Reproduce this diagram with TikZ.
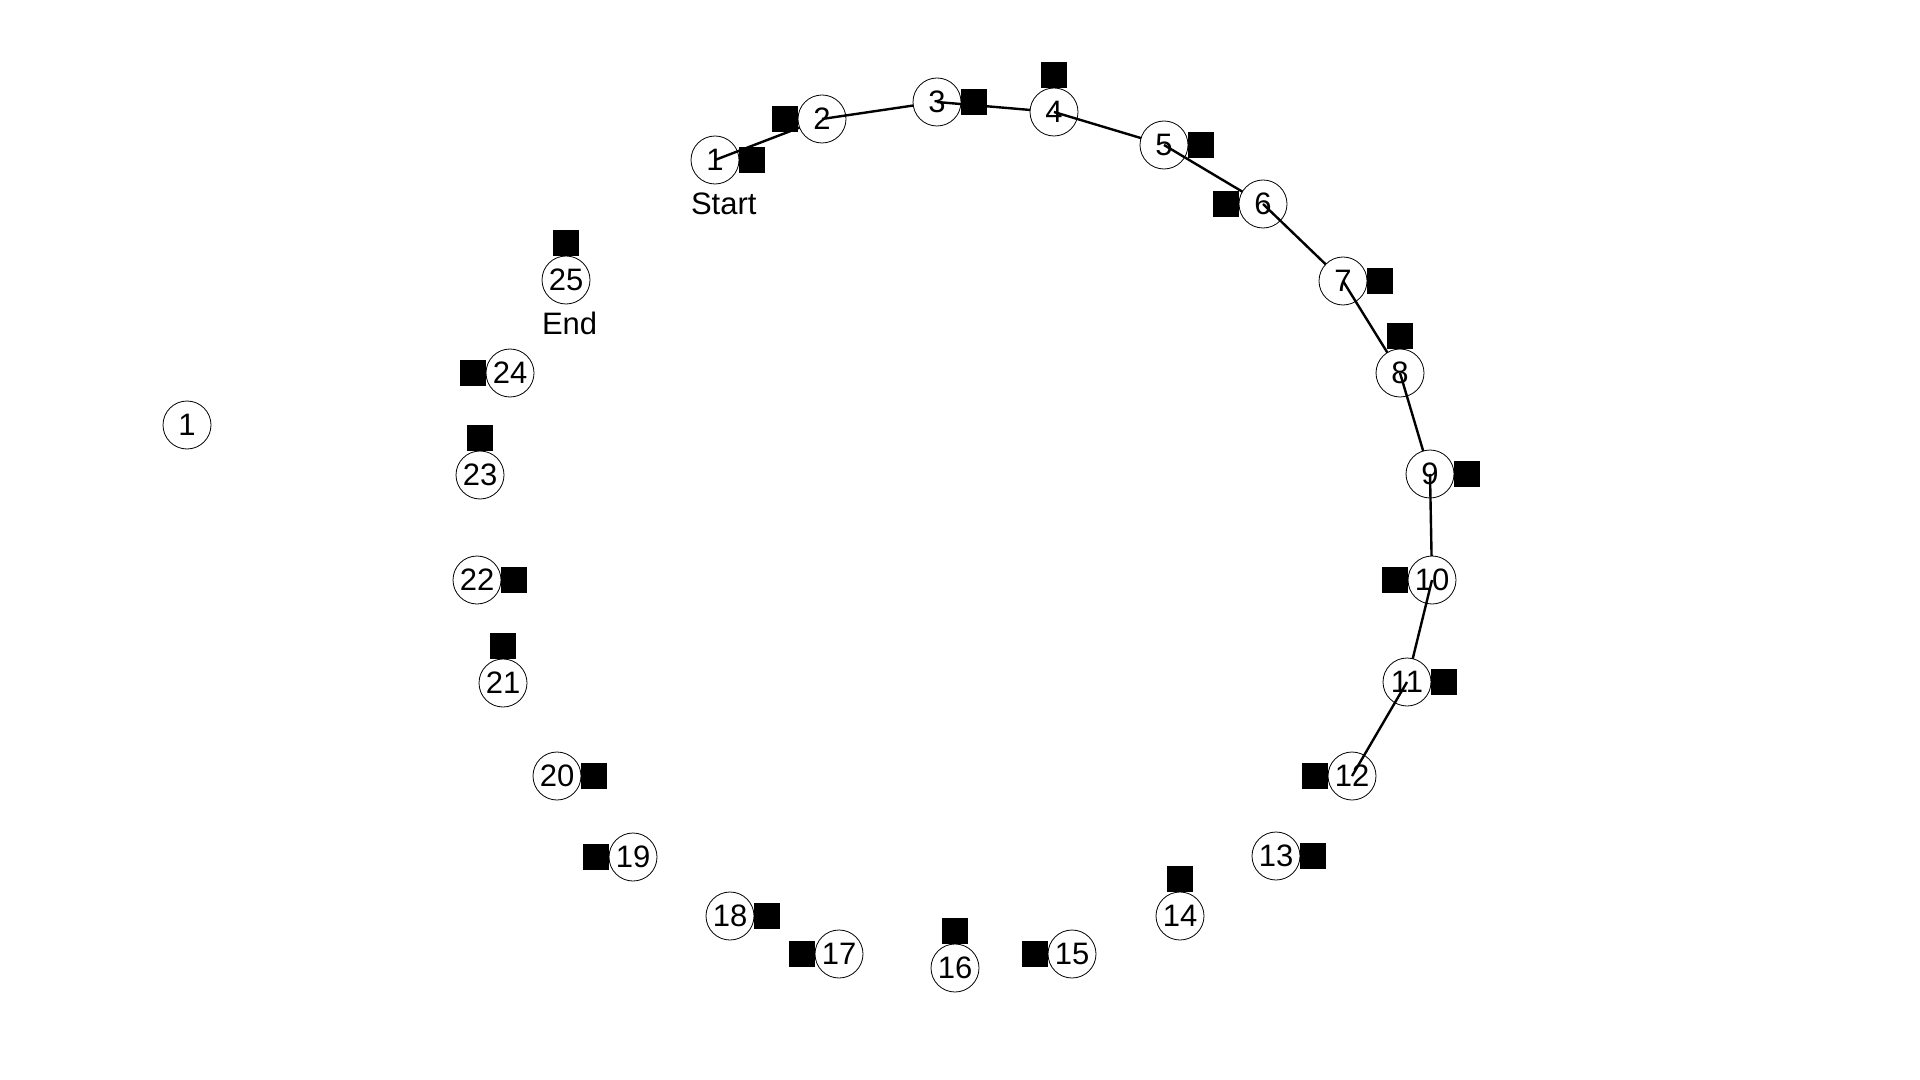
\documentclass[tikz,border=0pt]{standalone}
\usepackage{fontspec}
\setmainfont{Liberation Sans}
\usetikzlibrary{positioning}

\begin{document}
\begin{tikzpicture}[x=0.5pt, y=-0.5pt]
	\tikzset{node distance=0pt,
		station/.style={circle, draw, line width=0.4pt, fill=white, minimum size=24pt, inner sep=0pt, outer sep=0pt, font=\fontsize{15.5}{18}\selectfont},
		flag/.style={rectangle, fill=black, minimum size=13pt, inner sep=0pt, outer sep=0pt},
		lbl/.style={inner xsep=0pt, inner ysep=4.2pt, outer sep=0pt, anchor=north west, font=\fontsize{15.5}{18}\selectfont},
		leg/.style={line width=1.2pt}}
	
	\useasboundingbox (0,0) rectangle (1920,1080);
	
	% positions round the ring
	\coordinate (p1) at (715,160);
	\coordinate (p2) at (822,119);
	\coordinate (p3) at (937,102);
	\coordinate (p4) at (1054,112);
	\coordinate (p5) at (1164,145);
	\coordinate (p6) at (1263,204);
	\coordinate (p7) at (1343,281);
	\coordinate (p8) at (1400,373);
	\coordinate (p9) at (1430,474);
	\coordinate (p10) at (1432,580);
	\coordinate (p11) at (1407,682);
	\coordinate (p12) at (1352,776);
	\coordinate (p13) at (1276,856);
	\coordinate (p14) at (1180,916);
	\coordinate (p15) at (1072,954);
	\coordinate (p16) at (955,968);
	\coordinate (p17) at (839,954);
	\coordinate (p18) at (730,916);
	\coordinate (p19) at (633,857);
	\coordinate (p20) at (557,776);
	\coordinate (p21) at (503,683);
	\coordinate (p22) at (477,580);
	\coordinate (p23) at (480,475);
	\coordinate (p24) at (510,373);
	\coordinate (p25) at (566,280);
	
	\node[station] (n1) at (p1) {1};
	\node[flag, right=of n1] (f1) {};
	\node[lbl] (start) at (n1.west |- n1.south) {Start};
	\draw[leg] (n1.center) -- (p2);
	\node[station] (n2) at (p2) {2};
	\node[flag, left=of n2] (f2) {};
	\draw[leg] (n2.center) -- (p3);
	\node[station] (n3) at (p3) {3};
	\draw[leg] (n3.center) -- (p4);
	\node[flag, right=of n3] (f3) {};
	\node[station] (n4) at (p4) {4};
	\node[flag, above=of n4] (f4) {};
	\draw[leg] (n4.center) -- (p5);
	\node[station] (n5) at (p5) {5};
	\node[flag, right=of n5] (f5) {};
	\draw[leg] (n5.center) -- (p6);
	\node[station] (n6) at (p6) {6};
	\node[flag, left=of n6] (f6) {};
	\draw[leg] (n6.center) -- (p7);
	\node[station] (n7) at (p7) {7};
	\node[flag, right=of n7] (f7) {};
	\draw[leg] (n7.center) -- (p8);
	\node[station] (n8) at (p8) {8};
	\node[flag, above=of n8] (f8) {};
	\draw[leg] (n8.center) -- (p9);
	\node[station] (n9) at (p9) {9};
	\node[flag, right=of n9] (f9) {};
	\draw[leg] (n9.center) -- (p10);
	\node[station] (n10) at (p10) {10};
	\node[flag, left=of n10] (f10) {};
	\draw[leg] (n10.center) -- (p11);
	\node[station] (n11) at (p11) {11};
	\node[flag, right=of n11] (f11) {};
	\node[station] (n12) at (p12) {12};
	\node[flag, left=of n12] (f12) {};
	\draw[leg] (n11.center) -- (n12.center);
	
	% the rest of the ring, not yet walked
	\node[station] (n13) at (p13) {13};
	\node[flag, right=of n13] (f13) {};
	\node[station] (n14) at (p14) {14};
	\node[flag, above=of n14] (f14) {};
	\node[station] (n15) at (p15) {15};
	\node[flag, left=of n15] (f15) {};
	\node[station] (n16) at (p16) {16};
	\node[flag, above=of n16] (f16) {};
	\node[station] (n17) at (p17) {17};
	\node[flag, left=of n17] (f17) {};
	\node[station] (n18) at (p18) {18};
	\node[flag, right=of n18] (f18) {};
	\node[station] (n19) at (p19) {19};
	\node[flag, left=of n19] (f19) {};
	\node[station] (n20) at (p20) {20};
	\node[flag, right=of n20] (f20) {};
	\node[station] (n21) at (p21) {21};
	\node[flag, above=of n21] (f21) {};
	\node[station] (n22) at (p22) {22};
	\node[flag, right=of n22] (f22) {};
	\node[station] (n23) at (p23) {23};
	\node[flag, above=of n23] (f23) {};
	\node[station] (n24) at (p24) {24};
	\node[flag, left=of n24] (f24) {};
	\node[station] (n25) at (p25) {25};
	\node[flag, above=of n25] (f25) {};
	\node[lbl] (end) at (n25.west |- n25.south) {End};
	
	\node[station] (lone) at (187,425) {1};
\end{tikzpicture}
\end{document}
